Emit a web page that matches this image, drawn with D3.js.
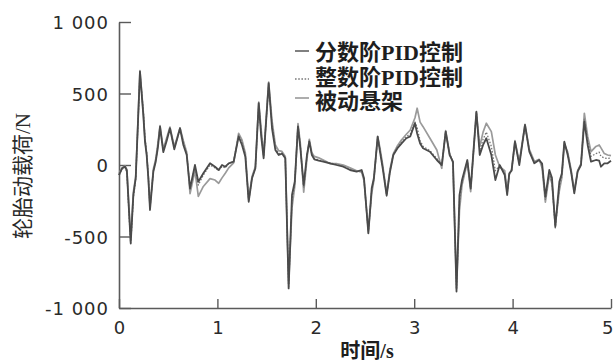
<!DOCTYPE html>
<html>
<head>
<meta charset="utf-8">
<script src="https://cdn.jsdelivr.net/npm/d3@7"></script>
<style>
  html, body { margin: 0; padding: 0; background: #fff; }
  svg { display: block; }
</style>
</head>
<body>
<svg id="chart" width="615" height="364"></svg>
<script>
// Time samples (s)
const T = [
  0.00, 0.03, 0.06, 0.08, 0.10, 0.119, 0.146, 0.17, 0.19, 0.213,
  0.247, 0.264, 0.281, 0.298, 0.315, 0.349, 0.373, 0.395, 0.417, 0.45,
  0.485, 0.518, 0.562, 0.59, 0.62, 0.654, 0.688, 0.722, 0.772, 0.806,
  0.857, 0.925, 0.976, 1.013, 1.047, 1.08, 1.115, 1.165, 1.216, 1.25,
  1.284, 1.318, 1.352, 1.386, 1.42, 1.445, 1.47, 1.521, 1.555, 1.589,
  1.623, 1.656, 1.69, 1.724, 1.758, 1.786, 1.819, 1.843, 1.877, 1.91,
  1.934, 1.96, 1.985, 2.03, 2.076, 2.144, 2.21, 2.28, 2.348, 2.415,
  2.466, 2.49, 2.534, 2.568, 2.59, 2.629, 2.652, 2.68, 2.72, 2.754,
  2.788, 2.83, 2.87, 2.92, 2.96, 3.008, 3.03, 3.06, 3.09, 3.16,
  3.23, 3.28, 3.32, 3.36, 3.394, 3.43, 3.46, 3.486, 3.54, 3.574,
  3.632, 3.666, 3.70, 3.733, 3.784, 3.825, 3.869, 3.92, 3.945, 3.966,
  3.99, 4.024, 4.068, 4.126, 4.17, 4.221, 4.27, 4.30, 4.333, 4.373,
  4.40, 4.434, 4.475, 4.50, 4.526, 4.56, 4.594, 4.627, 4.661, 4.695,
  4.729, 4.763, 4.797, 4.847, 4.88, 4.898, 4.932, 4.966, 5.0
];

// 分数阶PID控制 (N)
const fracPID = [
  -70, -25, -10, -40, -300, -546, -210, -91, 250, 653,
  350, 163, 70, -91, -315, -47, 23, 120, 268, 90,
  170, 257, 110, 180, 257, 140, 70, -163, 0, -117,
  -58, 12, -12, -35, 0, -12, 12, 23, 198, 140,
  58, -257, -93, -23, 432, 200, 47, 572, 257, 105,
  70, 80, 47, -863, -210, -117, 268, 117, -140, 70,
  163, 70, 40, 30, 23, 12, 0, -12, -35, -47,
  -35, -93, -478, -163, -93, 198, 93, -23, -215, -47,
  70, 117, 150, 187, 200, 292, 220, 150, 117, 93,
  35, 0, 233, 70, 23, -885, -210, -105, 35, -163,
  373, 70, 140, 187, 70, -105, 0, -70, -210, -58,
  -40, 163, 0, 280, 93, 12, 35, 10, -222, -35,
  -90, -432, -117, -60, 163, 70, -47, -198, -47, 0,
  303, 140, 23, 35, 30, -12, 12, 12, 30
];

// 整数阶PID控制 (N)
const intPID = [
  -70, -30, -15, -50, -320, -560, -230, -100, 240, 640,
  380, 190, 90, -80, -300, -40, 30, 140, 260, 100,
  180, 250, 120, 180, 250, 160, 80, -170, -10, -140,
  -70, 0, -20, -40, -10, -20, 10, 25, 210, 160,
  70, -250, -90, -20, 420, 230, 60, 560, 290, 120,
  80, 85, 50, -850, -250, -130, 280, 130, -160, 60,
  170, 75, 45, 35, 25, 15, 5, -10, -30, -45,
  -40, -100, -470, -180, -100, 190, 110, -10, -210, -40,
  75, 125, 160, 200, 215, 300, 260, 170, 130, 100,
  45, 0, 235, 75, 20, -870, -260, -120, 30, -170,
  370, 100, 180, 230, 130, -40, -5, -60, -200, -60,
  -40, 160, 10, 275, 100, 15, 35, 0, -240, -50,
  -120, -440, -150, -80, 160, 80, -40, -190, -45, 5,
  320, 170, 60, 80, 90, 60, 50, 45, 50
];

// 被动悬架 (N)
const passive = [
  -60, -20, -5, -30, -280, -520, -190, -80, 260, 660,
  370, 180, 80, -80, -290, -30, 40, 150, 275, 110,
  190, 265, 130, 190, 260, 170, 90, -200, -40, -220,
  -150, -95, -105, -128, -90, -58, -20, 15, 222, 175,
  85, -240, -80, -10, 440, 250, 70, 580, 310, 140,
  100, 95, 60, -830, -300, -150, 290, 150, -190, 40,
  180, 85, 60, 50, 35, 10, 10, 0, -20, -40,
  -50, -110, -460, -200, -110, 200, 120, 0, -200, -30,
  80, 135, 175, 215, 245, 330, 397, 300, 268, 187,
  105, -23, 240, 80, 15, -860, -320, -140, 20, -187,
  365, 130, 230, 292, 233, 70, -12, -40, -190, -70,
  -30, 170, 20, 285, 110, 25, 40, -20, -260, -70,
  -130, -420, -180, -90, 150, 90, -30, -180, -40, 10,
  362, 200, 93, 130, 140, 120, 80, 70, 65
];

const yTicks = [-1000, -500, 0, 500, 1000];
const yTickLabels = ["-1 000", "-500", "0", "500", "1 000"];
const xTicks = [0, 1, 2, 3, 4, 5];

const seriesNames = ["分数阶PID控制", "整数阶PID控制", "被动悬架"];
const xTitle = "时间/s";
const yTitle = "轮胎动载荷/N";

const svg = d3.select("#chart");
const x = d3.scaleLinear().domain([0, 5]).range([119, 611]);
const y = d3.scaleLinear().domain([-1000, 1000]).range([308, 22]);

const axisColor = "#5a5a5a";
const numFont = "'DejaVu Sans', sans-serif";
const cjkFont = "'Liberation Serif', 'Noto Sans CJK SC', serif";

// Axes: ticks point into the plot
const yAxis = d3.axisLeft(y)
  .tickValues(yTicks)
  .tickFormat((d, i) => yTickLabels[i])
  .tickSizeInner(-12).tickSizeOuter(0).tickPadding(10);
const gy = svg.append("g").attr("transform", "translate(119,0)").call(yAxis);

const xAxis = d3.axisBottom(x)
  .tickValues(xTicks)
  .tickFormat(d3.format("d"))
  .tickSizeInner(-9).tickSizeOuter(0).tickPadding(13);
const gx = svg.append("g").attr("transform", "translate(0,308)").call(xAxis);

[gx, gy].forEach(g => {
  g.select(".domain").attr("stroke", axisColor).attr("stroke-width", 1.6);
  g.selectAll(".tick line").attr("stroke", axisColor).attr("stroke-width", 1.4);
  g.selectAll(".tick text")
    .attr("fill", "#2a2a2a")
    .style("font-family", numFont)
    .style("font-size", "18px");
});
gy.selectAll(".tick text").attr("dy", "0.38em").style("letter-spacing", "1px");
// last x label sits against the right edge
gx.selectAll(".tick text").filter(d => d === 5).attr("text-anchor", "end").attr("dx", "2");

// Series lines
const pts = vals => T.map((t, i) => [t, vals[i]]);
const line = d3.line().x(d => x(d[0])).y(d => y(d[1]));

const styles = [
  { vals: passive, stroke: "#9a9a9a", width: 1.7, dash: null },
  { vals: intPID, stroke: "#777", width: 1.3, dash: "1.6,1.6" },
  { vals: fracPID, stroke: "#4a4a4a", width: 1.8, dash: null }
];
styles.forEach(s => {
  svg.append("path")
    .datum(pts(s.vals))
    .attr("fill", "none")
    .attr("stroke", s.stroke)
    .attr("stroke-width", s.width)
    .attr("stroke-dasharray", s.dash)
    .attr("stroke-linejoin", "round")
    .attr("d", line);
});

// Legend
const legendItems = [
  { name: seriesNames[0], stroke: "#4a4a4a", dash: null, ly: 51, ty: 60 },
  { name: seriesNames[1], stroke: "#7a7a7a", dash: "1.6,1.6", ly: 79, ty: 85 },
  { name: seriesNames[2], stroke: "#8a8a8a", dash: null, ly: 98, ty: 109 }
];
const lg = svg.append("g");
legendItems.forEach(it => {
  lg.append("line")
    .attr("x1", 295).attr("x2", 309)
    .attr("y1", it.ly).attr("y2", it.ly)
    .attr("stroke", it.stroke).attr("stroke-width", 1.4)
    .attr("stroke-dasharray", it.dash);
  lg.append("text")
    .attr("x", 315).attr("y", it.ty)
    .attr("fill", "#1e1e1e")
    .style("font-family", cjkFont)
    .style("font-size", "22px")
    .style("font-weight", "600")
    .text(it.name);
});

// Axis titles
svg.append("text")
  .attr("x", 367).attr("y", 358)
  .attr("text-anchor", "middle")
  .attr("fill", "#1e1e1e")
  .style("font-family", cjkFont)
  .style("font-size", "20px")
  .style("font-weight", "600")
  .text(xTitle);

svg.append("text")
  .attr("transform", "translate(30,176) rotate(-90)")
  .attr("text-anchor", "middle")
  .attr("fill", "#2a2a2a")
  .style("font-family", cjkFont)
  .style("font-size", "21px")
  .text(yTitle);
</script>
</body>
</html>
